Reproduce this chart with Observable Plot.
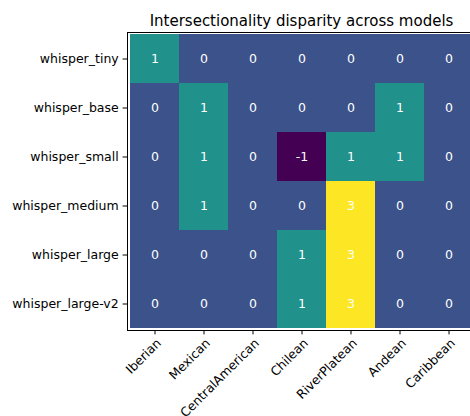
<!DOCTYPE html>
<html>
<head>
<meta charset="utf-8">
<script src="https://cdn.jsdelivr.net/npm/d3@7"></script>
<script src="https://cdn.jsdelivr.net/npm/@observablehq/plot@0.6"></script>
<style>
  html, body { margin: 0; padding: 0; background: #fff; }
  #chart { position: relative; width: 470px; height: 416px; overflow: hidden; }
  #chart svg, #chart svg text { font-family: "DejaVu Sans", sans-serif; }
</style>
</head>
<body>
<div id="chart"></div>
<script>
const titleText = "Intersectionality disparity across models";
const models = ["whisper_tiny", "whisper_base", "whisper_small", "whisper_medium", "whisper_large", "whisper_large-v2"];
const accents = ["Iberian", "Mexican", "CentralAmerican", "Chilean", "RiverPlatean", "Andean", "Caribbean"];
const tinyVals    = [1, 0, 0, 0, 0, 0, 0];
const baseVals    = [0, 1, 0, 0, 0, 1, 0];
const smallVals   = [0, 1, 0, -1, 1, 1, 0];
const mediumVals  = [0, 1, 0, 0, 3, 0, 0];
const largeVals   = [0, 0, 0, 1, 3, 0, 0];
const largeV2Vals = [0, 0, 0, 1, 3, 0, 0];
const rows = [tinyVals, baseVals, smallVals, mediumVals, largeVals, largeV2Vals];

const data = [];
models.forEach((m, i) => accents.forEach((a, j) => data.push({model: m, accent: a, value: rows[i][j]})));

const font = "DejaVu Sans, sans-serif";
const plot = Plot.plot({
  width: 470,
  height: 416,
  marginLeft: 127,
  marginTop: 32,
  marginBottom: 86,
  marginRight: -5,
  style: {fontFamily: font, fontSize: "12.5px", color: "#000", background: "#fff"},
  x: {domain: accents, padding: 0, label: null},
  y: {domain: models, padding: 0, label: null},
  color: {type: "linear", scheme: "viridis", domain: [-1, 3]},
  marks: [
    Plot.cell(data, {x: "accent", y: "model", fill: "value"}),
    Plot.text(data, {x: "accent", y: "model", text: d => String(d.value), fill: "white", fontSize: 12.5}),
    Plot.frame({stroke: "#000", strokeWidth: 1}),
    Plot.axisY({tickSize: 4.4, tickPadding: 4.4, fontSize: 12.5, label: null, stroke: "#000"}),
    Plot.axisX({tickSize: 4.4, tickFormat: () => "", label: null, stroke: "#000"}),
    Plot.axisX({tickSize: 0, tickPadding: 10.5, tickRotate: -45, dx: 4, fontSize: 12.5, label: null}),
    Plot.text([titleText], {frameAnchor: "top", text: d => d, lineAnchor: "bottom", dy: -7, fontSize: 15, fill: "#000"})
  ]
});
document.getElementById("chart").appendChild(plot);
</script>
</body>
</html>
